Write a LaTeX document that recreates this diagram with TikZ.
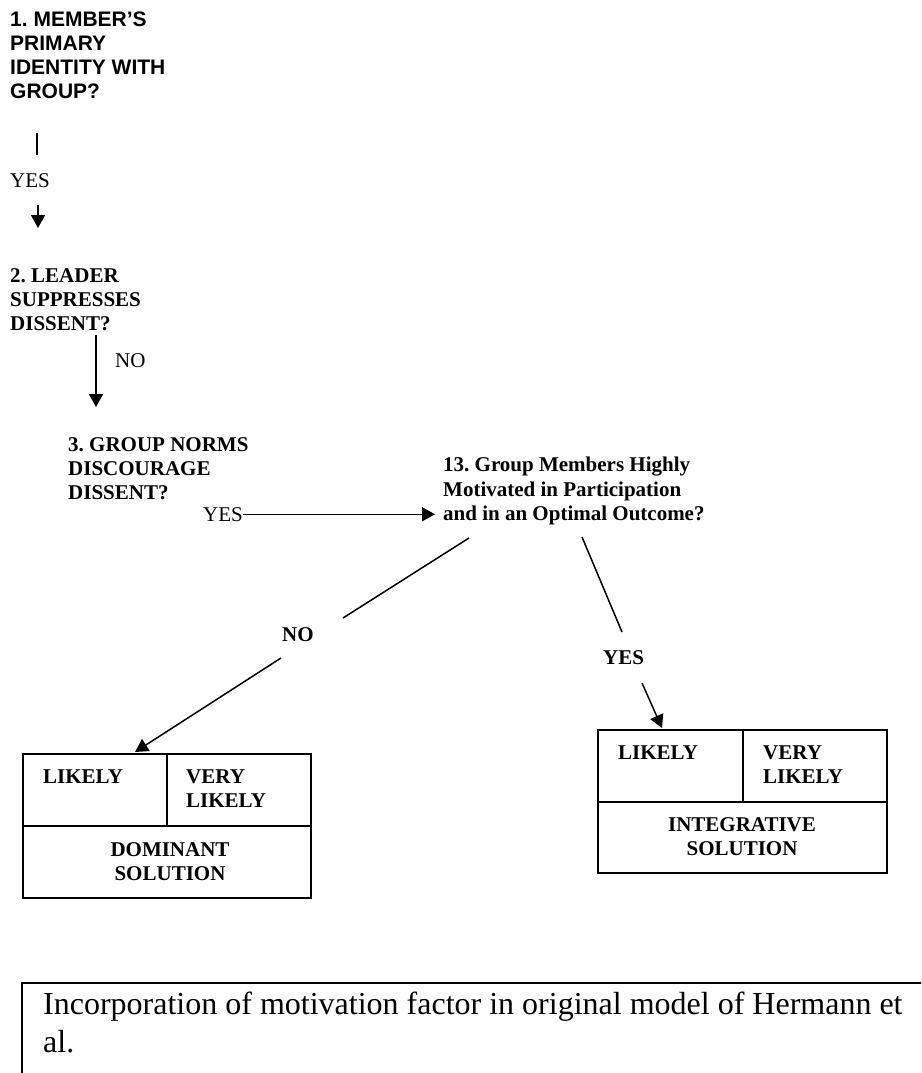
\documentclass[tikz,border=0pt]{standalone}
\usepackage{fontspec}
\setmainfont{Liberation Serif}
\newfontfamily\arialfont{Liberation Sans}
\usetikzlibrary{arrows.meta}
\frenchspacing
\begin{document}
\begin{tikzpicture}[x=1pt,y=-1pt,
  lbl/.style={inner sep=0pt,anchor=north west,align=left,font=\fontsize{21}{24}\selectfont},
  blbl/.style={lbl,font=\fontsize{21}{24}\selectfont\bfseries},
  clbl/.style={blbl,anchor=north,align=center},
  conn/.style={line width=1.5pt},
  arr/.style={conn,-{Triangle[length=13pt,width=14pt]}},
  cell/.style={draw,line width=1.5pt,inner sep=0pt,anchor=north west}]
\useasboundingbox (0,0) rectangle (921,1073);
\clip (0,0) rectangle (921,1073);

% question nodes
\node[lbl,font=\arialfont\fontsize{21}{24}\selectfont\bfseries] (n1) at (10,12) {1. MEMBER’S\\PRIMARY\\IDENTITY WITH\\GROUP?};
\node[lbl] (yes1) at (10,173) {YES};
\node[blbl] (n2) at (10,268) {2. LEADER\\SUPPRESSES\\DISSENT?};
\node[lbl] (no2) at (115,353) {NO};
\node[blbl] (n3) at (68,437) {3. GROUP NORMS\\DISCOURAGE\\DISSENT?};
\node[lbl] (yes3) at (203,507) {YES};
\node[blbl,font=\fontsize{21}{24.5}\selectfont\bfseries] (n13) at (443,457) {13. Group Members Highly\\Motivated in Participation\\and in an Optimal Outcome?};
\node[blbl] (noL) at (282,627) {NO};
\node[blbl] (yesR) at (603,650) {YES};

% connectors 1 -> 2
\coordinate (c1a) at (37,133);
\coordinate (c1b) at (37,155);
\coordinate (c1c) at (38,205);
\coordinate (c1d) at (38,228);
\draw[line width=1.4pt] (c1a) -- (c1b);
\draw[arr] (c1c) -- (c1d);

% 2 -> 3
\coordinate (c2a) at (96,335);
\coordinate (c2b) at (96,407);
\draw[arr] (c2a) -- (c2b);

% 3 -> 13
\draw[arr,shorten >=8pt] (yes3.east) -- (yes3.east -| n13.west);

% left box
\node[cell,minimum width=144pt,minimum height=72pt] (l1) at (22,753) {};
\node[cell,minimum width=144pt,minimum height=72pt] (l2) at (166,753) {};
\node[cell,minimum width=288pt,minimum height=72pt] (l3) at (22,825) {};
\node[blbl] (l1t) at (43,770) {LIKELY};
\node[blbl] (l2t) at (186,770) {VERY\\LIKELY};
\node[clbl] (l3t) at (170,842) {DOMINANT\\SOLUTION};

% right box
\node[cell,minimum width=145pt,minimum height=72pt] (r1) at (597,729) {};
\node[cell,minimum width=144pt,minimum height=72pt] (r2) at (742,729) {};
\node[cell,minimum width=289pt,minimum height=71pt] (r3) at (597,801) {};
\node[blbl] (r1t) at (618,746) {LIKELY};
\node[blbl] (r2t) at (763,746) {VERY\\LIKELY};
\node[clbl] (r3t) at (742,817) {INTEGRATIVE\\SOLUTION};

% 13 -> boxes
\coordinate (dL1) at (469,538);
\coordinate (dL2) at (343,618);
\coordinate (dL3) at (281,658);
\coordinate (dL4) at (135,752);
\draw[conn] (dL1) -- (dL2);
\draw[arr] (dL3) -- (dL4);
\coordinate (dR1) at (582,537);
\coordinate (dR2) at (622,632);
\coordinate (dR3) at (642,683);
\coordinate (dR4) at (662,728);
\draw[conn] (dR1) -- (dR2);
\draw[arr] (dR3) -- (dR4);

% caption box
\coordinate (cb1) at (22,1090);
\coordinate (cb2) at (22,983);
\coordinate (cb3) at (940,983);
\draw[line width=1.6pt] (cb1) -- (cb2) -- (cb3);
\node[lbl,font=\fontsize{32}{38}\selectfont] (cap) at (43,992) {Incorporation of motivation factor in original model of Hermann et\\al.};
\end{tikzpicture}
\end{document}
